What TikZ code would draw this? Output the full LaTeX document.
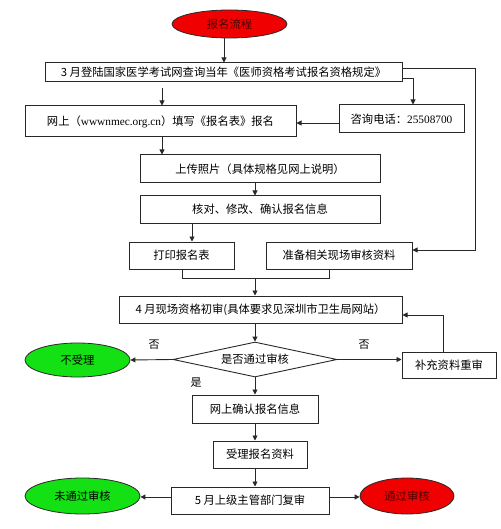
\documentclass[tikz,border=0pt]{standalone}
\usepackage{fontspec}
\setmainfont{Noto Sans CJK SC}
\newfontfamily\latinserif{Liberation Serif}
\usetikzlibrary{shapes.geometric,arrows.meta}
\definecolor{myred}{RGB}{240,0,0}
\definecolor{mygreen}{RGB}{20,225,20}
\definecolor{lines}{RGB}{40,40,40}
\tikzset{
  box/.style={draw=lines,line width=1pt,inner sep=0pt,font=\fontsize{11.3}{13}\selectfont},
  oval/.style={ellipse,draw=lines,line width=0.8pt,inner sep=0pt,font=\fontsize{11.3}{13}\selectfont},
  conn/.style={draw=lines,line width=0.9pt,-{Triangle[length=5pt,width=5pt]}},
  plain/.style={draw=lines,line width=0.9pt},
  lab/.style={font=\fontsize{11}{13}\selectfont}
}
\begin{document}
\begin{tikzpicture}[x=1pt,y=-1pt]
\useasboundingbox (0,0) rectangle (500,529);
\node[oval,fill=myred,minimum width=115,minimum height=28,text=black!70!red] (start) at (229.5,24) {报名流程};
\node[box,minimum width=357,minimum height=19] (b1) at (223.5,72.5) {3 月登陆国家医学考试网查询当年《医师资格考试报名资格规定》};
\node[box,minimum width=271,minimum height=31] (b2) at (160.5,121.5) {网上（{\latinserif wwwnmec.org.cn}）填写《报名表》报名};
\node[box,minimum width=125,minimum height=28] (b3) at (401.5,119) {咨询电话：{\latinserif 25508700}};
\node[box,minimum width=240,minimum height=28] (b4) at (260,169) {上传照片（具体规格见网上说明）};
\node[box,minimum width=240,minimum height=27] (b5) at (260,209.5) {核对、修改、确认报名信息};
\node[box,minimum width=105,minimum height=27] (b6) at (181.5,255.5) {打印报名表};
\node[box,minimum width=146,minimum height=27] (b7) at (339,255.5) {准备相关现场审核资料};
\node[box,minimum width=283,minimum height=27] (b8) at (260.5,309.5) {4 月现场资格初审(具体要求见深圳市卫生局网站）};
\node[diamond,draw=lines,line width=0.9pt,inner sep=0pt,aspect=4.7,minimum width=164,minimum height=35,font=\fontsize{11.3}{13}\selectfont] (d) at (255,359.5) {是否通过审核};
\node[oval,fill=mygreen,minimum width=105,minimum height=34] (rej) at (77.5,360) {不受理};
\node[box,minimum width=94,minimum height=26] (b9) at (449,365) {补充资料重审};
\node[box,minimum width=126,minimum height=28] (b10) at (255,409) {网上确认报名信息};
\node[box,minimum width=94,minimum height=27] (b11) at (260,454.5) {受理报名资料};
\node[box,minimum width=158,minimum height=27] (b12) at (250,500.5) {5 月上级主管部门复审};
\node[oval,fill=mygreen,minimum width=115,minimum height=36] (fail) at (82.5,496) {未通过审核};
\node[oval,fill=myred,minimum width=94,minimum height=36,text=black!70!red] (pass) at (407,496) {通过审核};
\node[lab] (no1) at (154,345) {否};
\node[lab] (no2) at (364,345) {否};
\node[lab] (yes) at (196,383) {是};
% coordinates
\coordinate (c12) at (162,88);
\coordinate (c13a) at (413,78);
\coordinate (c17a) at (475,68);
\coordinate (c17b) at (475,250);
\coordinate (br1) at (182,278);
\coordinate (br2) at (329,278);
\coordinate (brm) at (255,278);
\coordinate (c98) at (443,315);
% connectors
\draw[conn] (start.south -| 224,0) -- (b1.north -| 224,0);
\draw[conn] (c12) -- (b2.north -| c12);
\draw[conn] (b1.east |- c13a) -- (c13a) -- (b3.north -| c13a);
\draw[conn] (b3.west |- 0,123) -- (b2.east |- 0,123);
\draw[conn] (b1.east |- c17a) -- (c17a) -- (c17b) -- (b7.east |- c17b);
\draw[conn] (b2.south -| c12) -- (b4.north -| c12);
\draw[conn] (b4.south -| 255,0) -- (b5.north -| 255,0);
\draw[conn] (b5.south -| 192,0) -- (b6.north -| 192,0);
\draw[plain] (b6.south -| br1) -- (br1) -- (br2) -- (b7.south -| br2);
\draw[conn] (brm) -- (b8.north -| brm);
\draw[conn] (b8.south -| d.north) -- (d.north);
\draw[conn] (d.west) -- (rej.east);
\draw[conn] (d.east) -- (b9.west |- d.east);
\draw[conn] (b9.north -| c98) -- (c98) -- (b8.east |- c98);
\draw[conn] (d.south) -- (b10.north -| d.south);
\draw[conn] (b10.south -| d.south) -- (b11.north -| d.south);
\draw[conn] (b11.south -| d.south) -- (b12.north -| d.south);
\draw[conn] (b12.west |- 0,497) -- (fail.east |- 0,497);
\draw[conn] (b12.east |- 0,497) -- (pass.west |- 0,497);
\end{tikzpicture}
\end{document}
